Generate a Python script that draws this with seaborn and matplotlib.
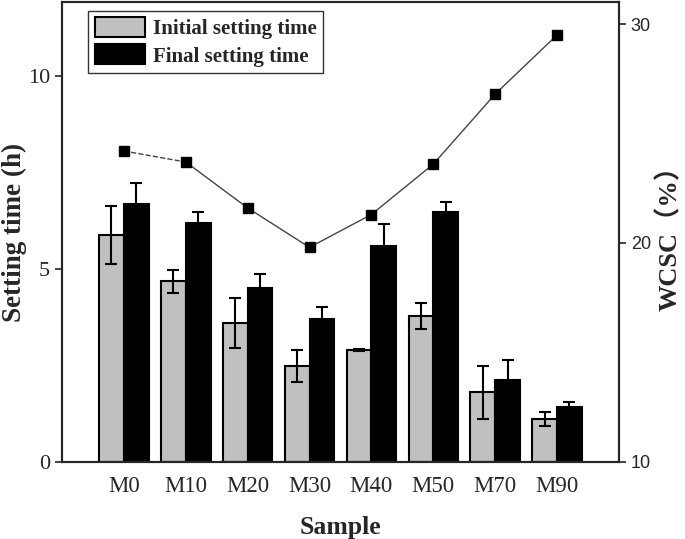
import numpy as np
import pandas as pd
import matplotlib.pyplot as plt
import seaborn as sns

sns.set_style("ticks")
plt.rcParams['font.family'] = ['Liberation Serif', 'DejaVu Serif']

samples = ['M0', 'M10', 'M20', 'M30', 'M40', 'M50', 'M70', 'M90']
initial = [5.88, 4.67, 3.59, 2.49, 2.90, 3.78, 1.80, 1.11]
initial_err = [0.75, 0.30, 0.64, 0.41, 0.03, 0.33, 0.69, 0.19]
final = [6.68, 6.19, 4.50, 3.70, 5.60, 6.48, 2.12, 1.42]
final_err = [0.55, 0.29, 0.36, 0.32, 0.55, 0.25, 0.52, 0.12]
wcsc = [24.2, 23.7, 21.6, 19.8, 21.3, 23.6, 26.8, 29.5]

df = pd.DataFrame({
    'Sample': samples * 2,
    'Time': initial + final,
    'Type': ['Initial setting time'] * 8 + ['Final setting time'] * 8,
})

fig = plt.figure(figsize=(6.85, 5.39), dpi=100)
ax = fig.add_axes([0.0905, 0.143, 0.813, 0.853])

sns.barplot(data=df, x='Sample', y='Time', hue='Type', ax=ax,
            palette=['#c0c0c0', '#000000'], edgecolor='black', linewidth=1.5,
            width=0.8, errorbar=None, saturation=1)

# error bars on top of each bar
for cont, errs in zip(ax.containers, [initial_err, final_err]):
    xs = [p.get_x() + p.get_width() / 2 for p in cont.patches]
    ys = [p.get_height() for p in cont.patches]
    ax.errorbar(xs, ys, yerr=errs, fmt='none', ecolor='black',
                elinewidth=1.5, capsize=4, capthick=1.5)

ax.set_xlim(-1, 8)
ax.set_ylim(0, 11.9)
ax.set_yticks([0, 5, 10])
ax.tick_params(axis='y', labelsize=16, direction='out', length=5, width=1.2)
ax.tick_params(axis='x', labelsize=16.5, length=0, pad=10)
ax.set_xlabel('Sample', fontsize=18.5, fontweight='bold', labelpad=14)
ax.set_ylabel('Setting time (h)', fontsize=19.5, fontweight='bold', labelpad=1)
for s in ax.spines.values():
    s.set_linewidth(1.5)

leg = ax.legend(loc='upper left', bbox_to_anchor=(0.04, 0.99),
                frameon=True, fancybox=False, edgecolor='black',
                prop={'weight': 'bold', 'size': 15}, handlelength=2.4,
                handleheight=1.1, borderpad=0.3, labelspacing=0.25,
                handletextpad=0.4, borderaxespad=0.2)
leg.get_frame().set_linewidth(1.0)

ax2 = ax.twinx()
x = np.arange(len(samples))
ax2.plot(x[:2], wcsc[:2], color='#444444', lw=1, ls='--')
ax2.plot(x[1:], wcsc[1:], color='#444444', lw=1)
ax2.plot(x, wcsc, ls='none', marker='s', ms=7, color='black')
ax2.set_ylim(10, 31)
ax2.set_yticks([10, 20, 30])
ax2.set_yticklabels(['10', '20', '30'], family='Liberation Sans', fontsize=13)
ax2.tick_params(axis='y', direction='out', length=5, width=1.2)
ax2.set_ylabel('WCSC（%）', fontsize=19, fontweight='bold',
               family=['Liberation Serif', 'Noto Sans CJK SC'], labelpad=4)
for s in ax2.spines.values():
    s.set_linewidth(1.5)

fig.savefig('out.png', dpi=100)
